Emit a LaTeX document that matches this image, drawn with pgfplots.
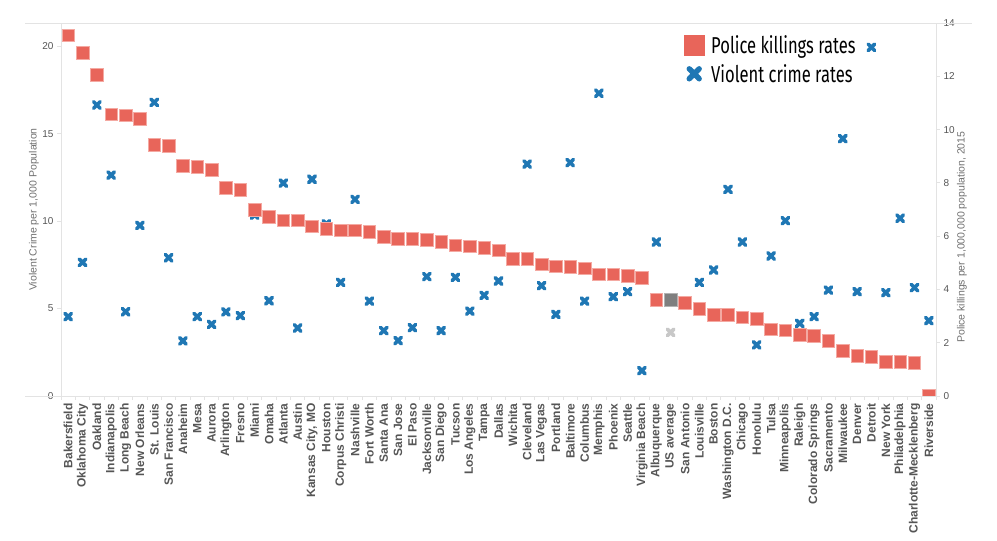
\documentclass[border=0pt]{standalone}
\usepackage{fontspec}
\setmainfont{Liberation Sans}
\newfontfamily\legfont[FakeStretch=0.72]{Fira Sans}
\usepackage{pgfplots}
\pgfplotsset{compat=1.18}
\definecolor{tred}{HTML}{E8655A}
\definecolor{tredl}{HTML}{F4A9A2}
\definecolor{tblue}{HTML}{1F77B4}
\definecolor{axgray}{HTML}{E3E3E3}
\definecolor{tickgray}{HTML}{555555}
\definecolor{labgray}{HTML}{707070}
\definecolor{usx}{HTML}{C8C8C8}
\definecolor{ussq}{HTML}{7F7F7F}
\begin{document}
\begin{tikzpicture}
\useasboundingbox (-61pt,-145pt) rectangle (936pt,396pt);
\begin{axis}[
  scale only axis, width=875pt, height=373pt,
  at={(0,0)}, anchor=south west,
  xmin=0.5, xmax=61.5, ymin=0, ymax=21.34,
  axis line style={draw=axgray, line width=0.8pt},
  xtick={1,...,61},
  xticklabels={Bakersfield,Oklahoma City,Oakland,Indianapolis,Long Beach,New Orleans,St. Louis,San Francisco,Anaheim,Mesa,Aurora,Arlington,Fresno,Miami,Omaha,Atlanta,Austin,{Kansas City, MO},Houston,Corpus Christi,Nashville,Fort Worth,Santa Ana,San Jose,El Paso,Jacksonville,San Diego,Tucson,Los Angeles,Tampa,Dallas,Wichita,Cleveland,Las Vegas,Portland,Baltimore,Columbus,Memphis,Phoenix,Seattle,Virginia Beach,Albuquerque,US average,San Antonio,Louisville,Boston,Washington D.C.,Chicago,Honolulu,Tulsa,Minneapolis,Raleigh,Colorado Springs,Sacramento,Milwaukee,Denver,Detroit,New York,Philadelphia,Charlotte-Mecklenberg,Riverside},
  xtick pos=bottom,
  xtick style={draw=none},
  xticklabel style={rotate=90, anchor=east, font=\bfseries\fontsize{12}{14}\selectfont, text=tickgray},
  ytick={0,5,10,15,20}, ytick pos=left, tick align=outside,
  ytick style={draw=axgray, line width=0.8pt}, major tick length=4pt,
  yticklabel style={font=\fontsize{10}{12}\selectfont, text=tickgray},
  /pgf/number format/assume math mode=true,
  ylabel={Violent Crime per 1,000 Population},
  ylabel style={at={(axis description cs:-0.031,0.5)}, anchor=center, font=\fontsize{10.5}{12}\selectfont, text=labgray},
]
\addplot[only marks, mark=x, mark size=4.6pt, color=tblue, mark options={line width=3.6pt, line cap=round}] coordinates {
(1,4.54) (2,7.65) (3,16.65) (4,12.64) (5,4.82) (6,9.76) (7,16.80) (8,7.91) (9,3.15) (10,4.54)
(11,4.10) (12,4.81) (13,4.60) (14,10.35) (15,5.45) (16,12.18) (17,3.89) (18,12.40) (19,9.85) (20,6.50)
(21,11.25) (22,5.43) (23,3.74) (24,3.17) (25,3.91) (26,6.83) (27,3.74) (28,6.79) (29,4.86) (30,5.76)
(31,6.58) (32,7.85) (33,13.27) (34,6.31) (35,4.67) (36,13.35) (37,5.43) (38,17.32) (39,5.68) (40,5.97)
(41,1.45) (42,8.81) (44,5.34) (45,6.50) (46,7.21) (47,11.82) (48,8.81) (49,2.92) (50,8.01)
(51,10.03) (52,4.16) (53,4.54) (54,6.06) (55,14.72) (56,5.97) (57,19.95) (58,5.91) (59,10.17) (60,6.20)
(61,4.31)
};
\addplot[only marks, mark=x, mark size=4.6pt, color=usx, mark options={line width=3.6pt, line cap=round}] coordinates {(43,3.64)};
\end{axis}
\begin{axis}[
  scale only axis, width=875pt, height=373pt,
  at={(0,0)}, anchor=south west,
  xmin=0.5, xmax=61.5, ymin=0, ymax=14,
  axis line style={draw=axgray, line width=0.8pt},
  xtick={0.5,1.5,...,61.5}, xticklabels={}, xtick pos=bottom,
  ytick={0,2,...,14}, ytick pos=right, yticklabel pos=right,
  tick align=outside, tick style={draw=axgray, line width=0.8pt}, major tick length=4pt,
  yticklabel style={font=\fontsize{10}{12}\selectfont, text=tickgray},
  /pgf/number format/assume math mode=true,
  ylabel={Police killings per 1,000,000 population, 2015},
  ylabel style={at={(axis description cs:1.0297,0.426)}, anchor=center, font=\fontsize{10.5}{12}\selectfont, text=labgray},
  clip marker paths=true,
  legend style={at={(axis description cs:0.712,0.972)}, anchor=north west, draw=none, fill=none, inner sep=0pt,
    font=\legfont\fontsize{23}{27}\selectfont, text=black, row sep=5pt,
    /tikz/every odd column/.append style={column sep=5pt}},
  legend cell align=left,
]
\addplot[forget plot, only marks, mark=square*, mark size=6.3pt, color=tred, mark options={fill=tred, draw=tredl, line width=0.6pt}] coordinates {
(1,13.54) (2,12.89) (3,12.06) (4,10.57) (5,10.54) (6,10.40) (7,9.42) (8,9.40) (9,8.64) (10,8.60)
(11,8.49) (12,7.81) (13,7.74) (14,6.99) (15,6.72) (16,6.59) (17,6.59) (18,6.37) (19,6.27) (20,6.22)
(21,6.22) (22,6.16) (23,5.97) (24,5.90) (25,5.90) (26,5.86) (27,5.79) (28,5.66) (29,5.62) (30,5.57)
(31,5.47) (32,5.15) (33,5.15) (34,4.94) (35,4.87) (36,4.84) (37,4.80) (38,4.57) (39,4.57) (40,4.51)
(41,4.44) (42,3.60) (44,3.50) (45,3.27) (46,3.05) (47,3.05) (48,2.96) (49,2.89) (50,2.51)
(51,2.47) (52,2.30) (53,2.26) (54,2.07) (55,1.69) (56,1.51) (57,1.48) (58,1.29) (59,1.29) (60,1.25)
(61,0)
};
\addplot[forget plot, only marks, mark=square*, mark size=6.3pt, mark options={fill=ussq, draw=ussq!60!white, line width=0.6pt}] coordinates {(43,3.60)};
\addlegendimage{only marks, mark=square*, mark size=10pt, mark options={fill=tred, draw=tred}}
\addlegendentry{Police killings rates}
\addlegendimage{only marks, mark=x, mark size=7pt, color=tblue, mark options={line width=5.5pt, line cap=round}}
\addlegendentry{Violent crime rates}
\end{axis}
\draw[axgray, line width=0.8pt] (-36pt,373pt) -- (0pt,373pt);
\draw[axgray, line width=0.8pt] (875pt,373pt) -- (911pt,373pt);
\draw[axgray, line width=0.8pt] (-36pt,0pt) -- (0pt,0pt);
\end{tikzpicture}
\end{document}
